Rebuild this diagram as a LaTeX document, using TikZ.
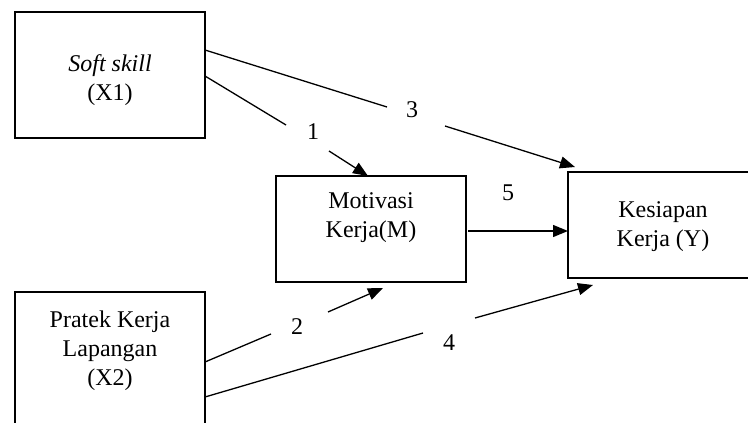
\documentclass[tikz,border=0pt]{standalone}
\usepackage{fontspec}
\setmainfont{Liberation Serif}
\usetikzlibrary{arrows.meta}
\begin{document}
\begin{tikzpicture}[x=1pt,y=-1pt,
  box/.style={draw,line width=1.6pt},
  txt/.style={align=center,font=\fontsize{24}{29}\selectfont,inner sep=0pt},
  num/.style={font=\fontsize{24}{29}\selectfont,inner sep=0pt},
  conn/.style={line width=1.3pt},
  arr/.style={conn,-{Triangle[length=15pt,width=12pt]}}]
\useasboundingbox (0,0) rectangle (748,423);
\clip (0,0) rectangle (748,423);
% boxes
\draw[box] (15,12) rectangle (205,138);
\draw[box] (15,292) rectangle (205,450);
\draw[box] (276,176) rectangle (466,282);
\draw[box] (568,172) rectangle (770,278);
% texts
\node[txt] (X1) at (110,80) {\textit{Soft skill}\\(X1)};
\node[txt] (X2) at (110,351) {Pratek Kerja\\Lapangan\\(X2)};
\node[txt] (M) at (371,218) {Motivasi\\Kerja(M)};
\node[txt] (Y) at (663,227) {Kesiapan\\Kerja (Y)};
% connector end points
\coordinate (s1) at (205,76);  \coordinate (g1a) at (286,125); \coordinate (g1b) at (329,151); \coordinate (t1) at (368,176);
\coordinate (s3) at (205,50);  \coordinate (g3a) at (387,107); \coordinate (g3b) at (445,126); \coordinate (t3) at (575,167);
\coordinate (s5) at (468,231); \coordinate (t5) at (568,231);
\coordinate (s2) at (205,362); \coordinate (g2a) at (271,334); \coordinate (g2b) at (328,312); \coordinate (t2) at (383,288);
\coordinate (s4) at (205,397); \coordinate (g4a) at (423,333); \coordinate (g4b) at (475,318); \coordinate (t4) at (593,285);
% labels
\node[num] (l1) at (313,132) {1};
\node[num] (l3) at (412,110) {3};
\node[num] (l5) at (508,193) {5};
\node[num] (l2) at (297,327) {2};
\node[num] (l4) at (449,343) {4};
% connectors
\draw[conn] (s1) -- (g1a); \draw[arr] (g1b) -- (t1);
\draw[conn] (s3) -- (g3a); \draw[arr] (g3b) -- (t3);
\draw[arr] (s5) -- (t5);
\draw[conn] (s2) -- (g2a); \draw[arr] (g2b) -- (t2);
\draw[conn] (s4) -- (g4a); \draw[arr] (g4b) -- (t4);
\end{tikzpicture}
\end{document}
